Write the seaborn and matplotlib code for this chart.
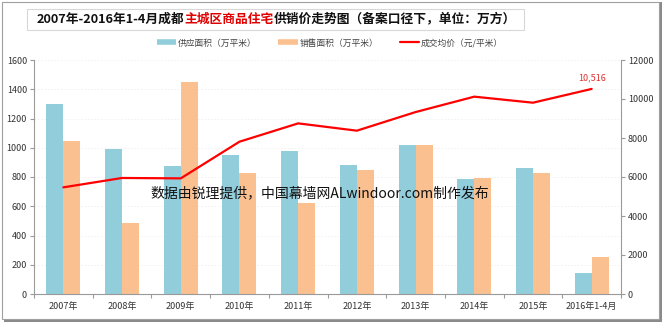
import matplotlib
matplotlib.use("Agg")
import matplotlib.pyplot as plt
import seaborn as sns
import pandas as pd
import numpy as np
from matplotlib.lines import Line2D
from matplotlib.patches import Rectangle

years = ["2007年", "2008年", "2009年", "2010年", "2011年", "2012年", "2013年", "2014年", "2015年", "2016年1-4月"]
supply = [1300, 990, 875, 950, 978, 884, 1017, 786, 860, 142]
sales = [1048, 488, 1450, 830, 620, 846, 1021, 791, 830, 255]
price = [5470, 5950, 5930, 7810, 8750, 8375, 9330, 10120, 9810, 10516]
series_names = ["供应面积（万平米）", "销售面积（万平米）"]
price_name = "成交均价（元/平米）"
title_parts = [("2007年-2016年1-4月成都", "#111111"), ("主城区商品住宅", "#E00000"),
               ("供销价走势图（备案口径下，单位：万方）", "#111111")]
watermark = "数据由锐理提供，中国幕墙网ALwindoor.com制作发布"
last_label = "10,516"

sns.set_theme(style="white")
plt.rcParams['font.family'] = ['Noto Sans CJK SC', 'DejaVu Sans']

W, H = 664, 325
fig = plt.figure(figsize=(W / 100, H / 100), dpi=100)
fig.patch.set_facecolor("white")

ax = fig.add_axes([34 / W, 1 - 294 / H, (621 - 34) / W, (294 - 60) / H])

df = pd.DataFrame({
    "year": years * 2,
    "value": supply + sales,
    "series": [series_names[0]] * len(years) + [series_names[1]] * len(years),
})
blue = "#92CDDC"
orange = "#FAC090"
red = "#FF0000"
sns.barplot(data=df, x="year", y="value", hue="series", palette=[blue, orange],
            width=0.58, gap=0, ax=ax, legend=False, saturation=1, linewidth=0, edgecolor="none")
ax.set_xlim(-0.5, len(years) - 0.5)
ax.set_ylim(0, 1600)
ax.set_yticks(np.arange(0, 1601, 200))
ax.set_xlabel("")
ax.set_ylabel("")
ax.grid(axis="y", color="#F0F0F0", linewidth=0.6, linestyle=(0, (2, 2)))
ax.set_axisbelow(True)

ax2 = ax.twinx()
sns.lineplot(x=np.arange(len(years)), y=price, ax=ax2, color=red, linewidth=1.6, sort=False)
ax2.set_ylim(0, 12000)
ax2.set_yticks(np.arange(0, 12001, 2000))
ax2.set_xlim(-0.5, len(years) - 0.5)
ax2.annotate(last_label, (len(years) - 1, price[-1]), xytext=(0, 5), textcoords="offset points",
             ha="center", va="bottom", fontsize=6.5, color="#E03030")

spine_c = "#9A9A9A"
for a in (ax, ax2):
    a.spines["top"].set_visible(False)
    for s in ["left", "right", "bottom"]:
        a.spines[s].set_color(spine_c)
        a.spines[s].set_linewidth(0.8)
ax.spines["right"].set_visible(False)
ax2.spines["left"].set_visible(False)
ax2.spines["bottom"].set_visible(False)

ax.tick_params(axis="y", which="major", left=True, length=3, width=0.8, color=spine_c,
               labelsize=6.5, labelcolor="#333333", pad=2)
ax2.tick_params(axis="y", which="major", right=True, length=3, width=0.8, color=spine_c,
                labelsize=6.5, labelcolor="#333333", pad=2)
ax.set_xticks(range(len(years)))
ax.set_xticklabels(years)
ax.tick_params(axis="x", which="major", length=0, labelsize=6.5, labelcolor="#333333", pad=5.5)
ax.set_xticks(np.arange(-0.5, len(years), 1.0), minor=True)
ax.tick_params(axis="x", which="minor", bottom=True, length=3, width=0.8, color=spine_c)

# watermark
fig.text(320 / W, 1 - 193 / H, watermark, ha="center", va="center", fontsize=10, color="#111111")

# legend
handles = [Line2D([0], [0], color=blue, lw=4, solid_capstyle="butt"),
           Line2D([0], [0], color=orange, lw=4, solid_capstyle="butt"),
           Line2D([0], [0], color=red, lw=1.6)]
fig.legend(handles, series_names + [price_name], loc="center", bbox_to_anchor=(330 / W, 1 - 43 / H),
           ncol=3, frameon=False, fontsize=6.3, handlelength=2.2, handletextpad=0.2,
           columnspacing=2.5, labelcolor="#444444")

# title with coloured segments
fig.canvas.draw()
renderer = fig.canvas.get_renderer()
x = 37 / W
y = 1 - 19 / H
for txt, col in title_parts:
    t = fig.text(x, y, txt, ha="left", va="center", fontsize=9.2, color=col, fontweight="bold")
    bb = t.get_window_extent(renderer=renderer)
    x += bb.width / W

fig.patches.append(Rectangle((27 / W, 1 - 30 / H), x - 27 / W + 8 / W, 21 / H, transform=fig.transFigure,
                             fill=False, edgecolor="#D8D8D8", linewidth=0.8))
# outer frame with shadow
fig.patches.append(Rectangle((4 / W, 1 - 322 / H), 658 / W, 320 / H, transform=fig.transFigure,
                             facecolor="#8A8A8A", edgecolor="none", zorder=-2))
fig.patches.append(Rectangle((1.5 / W, 1 - 318.5 / H), 657 / W, 317 / H, transform=fig.transFigure,
                             facecolor="white", edgecolor="#A0A0A0", linewidth=0.8, zorder=-1))

fig.savefig("out.png", dpi=100, facecolor="white")
